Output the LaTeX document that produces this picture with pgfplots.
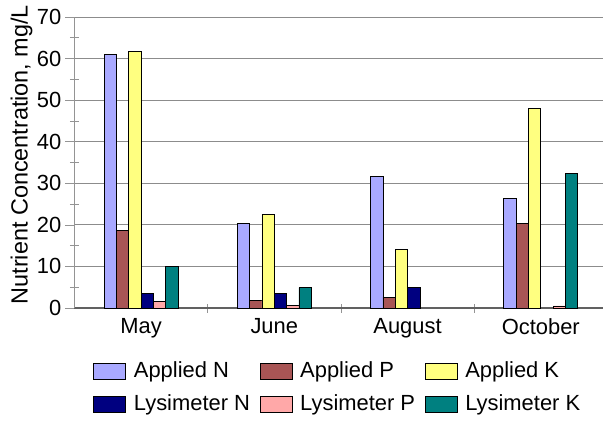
\documentclass[border=0pt]{standalone}
\usepackage{pgfplots}
\pgfplotsset{compat=1.18}
\usepackage{fontspec}
\setmainfont{Liberation Sans}
\definecolor{apN}{HTML}{A9A9FF}
\definecolor{apP}{HTML}{A85555}
\definecolor{apK}{HTML}{FFFF80}
\definecolor{lyN}{HTML}{000080}
\definecolor{lyP}{HTML}{FFA8A8}
\definecolor{lyK}{HTML}{008080}
\definecolor{gridcol}{HTML}{8C8C8C}

\begin{document}
\fontsize{22}{26}\selectfont
\begin{tikzpicture}
\path[use as bounding box] (-74.4bp,-116bp) rectangle (529.6bp,308bp);
\begin{axis}[
  scale only axis, width=529bp, height=291bp,
  at={(0,0)}, anchor=south west,
  ybar=0pt, bar width=12.33bp,
  xmin=-0.5, xmax=3.47, ymin=0, ymax=70,
  axis x line=bottom, axis y line=left,
  x axis line style={draw=black!62, line width=1.3bp, -},
  y axis line style={draw=black!42, line width=0.8bp, -},
  xtick={0.5,1.5,2.5}, xticklabels={},
  xtick style={yshift=4.5bp},
  extra x ticks={0,1,2,3}, extra x tick labels={May,June,August,October},
  extra x tick style={major tick length=0bp, grid=none,
    xticklabel style={yshift=-3bp}},
  ytick={0,10,...,70},
  extra y ticks={5,15,...,65}, extra y tick labels={},
  extra y tick style={tick align=center, major tick length=9bp, grid=none},
  tick align=outside, major tick length=9bp,
  tick style={draw=black!42, line width=0.7bp},
  ymajorgrids, grid style={draw=gridcol, line width=0.8bp},
  /pgf/number format/assume math mode=true,
  yticklabel style={inner sep=0pt, xshift=-4bp},
  ylabel={Nutrient Concentration, mg/L},
  ylabel style={at={(axis description cs:-0.1,0.527)}, anchor=center,
    font=\fontsize{23.5}{28}\selectfont},
  legend columns=3, legend cell align=left,
  legend style={draw=none, fill=none, inner sep=0pt,
    at={(axis description cs:0.0352,-0.183)}, anchor=north west,
    /tikz/every odd column/.append style={column sep=8bp},
    /tikz/every even column/.append style={column sep=9.5bp},
    row sep=14bp, nodes={inner sep=0pt}},
  legend image code/.code={\draw[#1, draw=black, line width=0.7bp] (0bp,-8bp) rectangle (32bp,8bp);},
  every axis plot/.append style={draw=black, line width=0.7bp},
]
\addplot[fill=apN] coordinates {(0,61.0) (1,20.4) (2,31.6) (3,26.4)};
\addlegendentry{Applied N}
\addplot[fill=apP] coordinates {(0,18.7) (1,1.9) (2,2.6) (3,20.4)};
\addlegendentry{Applied P}
\addplot[fill=apK] coordinates {(0,61.8) (1,22.6) (2,14.0) (3,48.1)};
\addlegendentry{Applied K}
\addplot[fill=lyN] coordinates {(0,3.5) (1,3.5) (2,4.9)};
\addlegendentry{Lysimeter N}
\addplot[fill=lyP] coordinates {(0,1.6) (1,0.7) (3,0.5)};
\addlegendentry{Lysimeter P}
\addplot[fill=lyK] coordinates {(0,10.0) (1,4.9) (3,32.4)};
\addlegendentry{Lysimeter K}
\end{axis}
\end{tikzpicture}
\end{document}
